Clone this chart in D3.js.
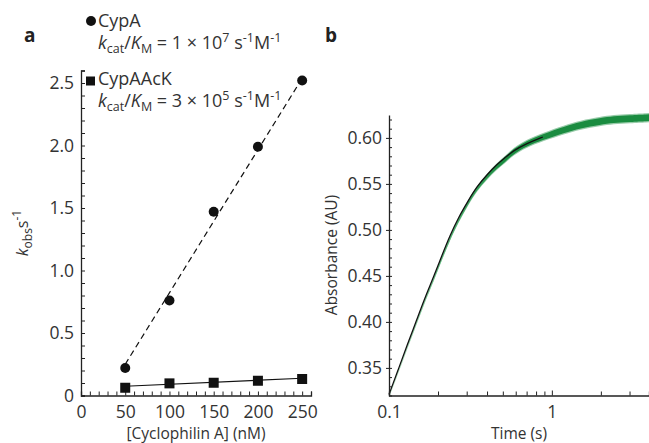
<!DOCTYPE html>
<html>
<head>
<meta charset="utf-8">
<script src="https://cdn.jsdelivr.net/npm/d3@7"></script>
<style>
  body { margin: 0; background: #fff; }
  svg { display: block; font-family: "Open Sans", sans-serif; }
</style>
</head>
<body>
<div id="chart"></div>
<script>
// panel a: rate vs cyclophilin concentration
var concentration = [50, 100, 150, 200, 250];
var cypA = [0.22, 0.76, 1.47, 1.99, 2.52];
var cypAAcK = [0.062, 0.097, 0.102, 0.118, 0.132];
var cypAFit = [[50, 0.25], [252, 2.56]];
var cypAAcKFit = [[50, 0.074], [250, 0.138]];
var concTicks = [0, 50, 100, 150, 200, 250];
var rateTicks = [0, 0.5, 1.0, 1.5, 2.0, 2.5];

// panel b: absorbance trace and fit
var fitTime = [0.1, 0.115, 0.13, 0.1465, 0.165, 0.189, 0.21, 0.237, 0.266, 0.307, 0.346, 0.4, 0.458, 0.52, 0.579, 0.7, 0.88];
var fitAbs = [0.321, 0.35, 0.376, 0.40, 0.425, 0.45, 0.471, 0.494, 0.513, 0.532, 0.547, 0.56, 0.571, 0.579, 0.586, 0.594, 0.601];
var traceTime = [0.1, 0.115, 0.13, 0.1465, 0.165, 0.189, 0.21, 0.237, 0.266, 0.307, 0.346, 0.4, 0.458, 0.52, 0.579, 0.7, 0.88, 1.2, 1.486, 2.0, 2.38, 3.0, 3.95];
var traceAbs = [0.319, 0.347, 0.373, 0.397, 0.422, 0.447, 0.468, 0.491, 0.51, 0.53, 0.545, 0.558, 0.569, 0.577, 0.585, 0.594, 0.601, 0.609, 0.614, 0.618, 0.620, 0.621, 0.622];
var traceSpread = [0.001, 0.001, 0.0012, 0.0012, 0.0014, 0.0015, 0.0016, 0.0018, 0.002, 0.002, 0.0022, 0.0024, 0.0026, 0.0028, 0.003, 0.003, 0.0032, 0.0034, 0.0035, 0.0036, 0.0036, 0.0036, 0.0036];
var timeTicks = [0.1, 1];
var timeMinor = [0.2, 0.3, 0.4, 0.5, 0.6, 0.7, 0.8, 0.9, 2, 3];
var absTicks = [0.35, 0.40, 0.45, 0.50, 0.55, 0.60];

var width = 649, height = 443;
var textColour = '#333';
var axisColour = '#222';
var tickFont = 17.5;

var svg = d3.select('#chart').append('svg')
  .attr('width', width)
  .attr('height', height);

// ---------- panel a ----------
var xA = d3.scaleLinear().domain([0, 260]).range([81, 311]);
var yA = d3.scaleLinear().domain([0, 2.6]).range([395.5, 70.5]);

var gA = svg.append('g');

gA.append('g')
  .attr('transform', 'translate(0,' + yA(0) + ')')
  .call(d3.axisBottom(xA).tickValues(d3.range(0, 261, 10)).tickSize(-4).tickFormat(''))
  .call(function (g) { g.select('.domain').attr('stroke', axisColour).attr('stroke-width', 1.3); });

gA.append('g')
  .attr('transform', 'translate(0,' + yA(0) + ')')
  .call(d3.axisBottom(xA).tickValues(concTicks).tickSize(0).tickPadding(10).tickFormat(d3.format('d')))
  .call(function (g) {
    g.select('.domain').remove();
    g.selectAll('text').attr('font-size', tickFont).attr('fill', textColour).attr('font-family', '"Open Sans", sans-serif');
  });

gA.append('g')
  .attr('transform', 'translate(' + xA(0) + ',0)')
  .call(d3.axisLeft(yA).tickValues(d3.range(0, 27).map(function (d) { return d / 10; })).tickSize(-4).tickFormat(''))
  .call(function (g) { g.select('.domain').attr('stroke', axisColour).attr('stroke-width', 1.3); });

gA.append('g')
  .attr('transform', 'translate(' + xA(0) + ',0)')
  .call(d3.axisLeft(yA).tickValues(rateTicks).tickSize(0).tickPadding(7)
    .tickFormat(function (d) { return d === 0 ? '0' : d3.format('.1f')(d); }))
  .call(function (g) {
    g.select('.domain').remove();
    g.selectAll('text').attr('font-size', tickFont).attr('fill', textColour).attr('font-family', '"Open Sans", sans-serif');
  });

gA.selectAll('.tick line').attr('stroke', axisColour).attr('stroke-width', 1);

var lineA = d3.line()
  .x(function (d) { return xA(d[0]); })
  .y(function (d) { return yA(d[1]); });

gA.append('path')
  .attr('d', lineA(cypAFit))
  .attr('fill', 'none')
  .attr('stroke', '#111')
  .attr('stroke-width', 1.2)
  .attr('stroke-dasharray', '6,4');

gA.append('path')
  .attr('d', lineA(cypAAcKFit))
  .attr('fill', 'none')
  .attr('stroke', '#111')
  .attr('stroke-width', 1.2);

gA.selectAll('.cypa')
  .data(concentration)
  .enter()
  .append('circle')
  .attr('class', 'cypa')
  .attr('cx', function (d) { return xA(d); })
  .attr('cy', function (d, i) { return yA(cypA[i]); })
  .attr('r', 5)
  .attr('fill', '#111');

gA.selectAll('.cypaack')
  .data(concentration)
  .enter()
  .append('rect')
  .attr('class', 'cypaack')
  .attr('x', function (d) { return xA(d) - 5; })
  .attr('y', function (d, i) { return yA(cypAAcK[i]) - 5; })
  .attr('width', 10)
  .attr('height', 10)
  .attr('fill', '#111');

// legend
function rateText(g, x, y, mant, exp) {
  var t = g.append('text')
    .attr('x', x).attr('y', y)
    .attr('font-size', 18)
    .attr('fill', textColour);
  t.append('tspan').attr('font-style', 'italic').text('k');
  t.append('tspan').attr('font-size', 12.5).attr('dy', 4).text('cat');
  t.append('tspan').attr('dy', -4).text('/');
  t.append('tspan').attr('font-style', 'italic').text('K');
  t.append('tspan').attr('font-size', 12.5).attr('dy', 4).text('M');
  t.append('tspan').attr('dy', -4).text(' = ' + mant + ' \u00d7 10');
  t.append('tspan').attr('font-size', 12.5).attr('dy', -7).text(exp);
  t.append('tspan').attr('dy', 7).text(' s');
  t.append('tspan').attr('font-size', 12.5).attr('dy', -7).text('-1');
  t.append('tspan').attr('dy', 7).text('M');
  t.append('tspan').attr('font-size', 12.5).attr('dy', -7).text('-1');
}

gA.append('circle').attr('cx', 91).attr('cy', 21).attr('r', 5).attr('fill', '#111');
gA.append('text').attr('x', 98).attr('y', 27).attr('font-size', 18).attr('fill', textColour).text('CypA');
rateText(gA, 98, 49, '1', '7');

gA.append('rect').attr('x', 86).attr('y', 76.5).attr('width', 9).attr('height', 9).attr('fill', '#111');
gA.append('text').attr('x', 98).attr('y', 85).attr('font-size', 18).attr('fill', textColour).text('CypAAcK');
rateText(gA, 98, 107, '3', '5');

// axis titles
gA.append('text')
  .attr('x', (xA.range()[0] + xA.range()[1]) / 2)
  .attr('y', 439)
  .attr('text-anchor', 'middle')
  .attr('font-size', 15.5)
  .attr('fill', textColour)
  .text('[Cyclophilin A] (nM)');

var yTitleA = gA.append('text')
  .attr('transform', 'translate(28,233) rotate(-90)')
  .attr('text-anchor', 'middle')
  .attr('font-size', 16)
  .attr('fill', textColour);
yTitleA.append('tspan').attr('font-style', 'italic').text('k');
yTitleA.append('tspan').attr('font-size', 12).attr('dy', 4).text('obs');
yTitleA.append('tspan').attr('dy', -4).text('s');
yTitleA.append('tspan').attr('font-size', 12).attr('dy', -7).text('-1');

svg.append('text').attr('x', 24).attr('y', 42).attr('font-size', 19).attr('font-weight', 'bold').attr('fill', '#222').text('a');
svg.append('text').attr('x', 325).attr('y', 42).attr('font-size', 19).attr('font-weight', 'bold').attr('fill', '#222').text('b');

// ---------- panel b ----------
var xB = d3.scaleLog().domain([0.1, 3.95]).range([389, 649]);
var yB = d3.scaleLinear().domain([0.32, 0.625]).range([395.5, 114.9]);

var gB = svg.append('g');

var grad = svg.append('defs').append('linearGradient')
  .attr('id', 'traceGrad')
  .attr('gradientUnits', 'userSpaceOnUse')
  .attr('x1', xB(0.1)).attr('x2', xB(0.5))
  .attr('y1', 0).attr('y2', 0);
grad.append('stop').attr('offset', '0%').attr('stop-color', '#b9e4c6');
grad.append('stop').attr('offset', '45%').attr('stop-color', '#5bb87a');
grad.append('stop').attr('offset', '100%').attr('stop-color', '#1a8c40');

var trace = traceTime.map(function (t, i) { return [t, traceAbs[i], traceSpread[i]]; });

gB.append('path')
  .attr('d', d3.area()
    .x(function (d) { return xB(d[0]); })
    .y0(function (d) { return yB(d[1] - d[2] * 1.4); })
    .y1(function (d) { return yB(d[1] + d[2] * 1.4); })
    .curve(d3.curveBasis)(trace))
  .attr('fill', 'url(#traceGrad)')
  .attr('opacity', 0.45);

gB.append('path')
  .attr('d', d3.area()
    .x(function (d) { return xB(d[0]); })
    .y0(function (d) { return yB(d[1] - d[2]); })
    .y1(function (d) { return yB(d[1] + d[2]); })
    .curve(d3.curveBasis)(trace))
  .attr('fill', 'url(#traceGrad)');

var fit = fitTime.map(function (t, i) { return [t, fitAbs[i]]; });
gB.append('path')
  .attr('d', d3.line()
    .x(function (d) { return xB(d[0]); })
    .y(function (d) { return yB(d[1]); })
    .curve(d3.curveBasis)(fit))
  .attr('fill', 'none')
  .attr('stroke', '#111')
  .attr('stroke-width', 1.3);

gB.append('g')
  .attr('transform', 'translate(0,' + yB(0.32) + ')')
  .call(d3.axisBottom(xB).tickValues(timeMinor).tickSize(-4).tickFormat(''))
  .call(function (g) { g.select('.domain').attr('stroke', axisColour).attr('stroke-width', 1.3); });

gB.append('g')
  .attr('transform', 'translate(0,' + yB(0.32) + ')')
  .call(d3.axisBottom(xB).tickValues(timeTicks).tickSize(-5).tickPadding(10)
    .tickFormat(function (d) { return d === 1 ? '1' : '0.1'; }))
  .call(function (g) {
    g.select('.domain').remove();
    g.selectAll('text').attr('font-size', tickFont).attr('fill', textColour).attr('font-family', '"Open Sans", sans-serif');
  });

gB.append('g')
  .attr('transform', 'translate(' + xB(0.1) + ',0)')
  .call(d3.axisLeft(yB).tickValues(d3.range(32, 63).map(function (d) { return d / 100; })).tickSizeInner(-3).tickSizeOuter(0).tickFormat(''))
  .call(function (g) { g.select('.domain').attr('stroke', axisColour).attr('stroke-width', 1.3); });

gB.append('g')
  .attr('transform', 'translate(' + xB(0.1) + ',0)')
  .call(d3.axisLeft(yB).tickValues(absTicks).tickSize(3).tickPadding(4).tickFormat(d3.format('.2f')))
  .call(function (g) {
    g.select('.domain').remove();
    g.selectAll('text').attr('font-size', tickFont).attr('fill', textColour).attr('font-family', '"Open Sans", sans-serif');
  });

gB.selectAll('.tick line').attr('stroke', axisColour).attr('stroke-width', 1);

gB.append('text')
  .attr('x', (xB.range()[0] + xB.range()[1]) / 2)
  .attr('y', 439)
  .attr('text-anchor', 'middle')
  .attr('font-size', 15.5)
  .attr('fill', textColour)
  .text('Time (s)');

gB.append('text')
  .attr('transform', 'translate(337,255) rotate(-90)')
  .attr('text-anchor', 'middle')
  .attr('font-size', 15.5)
  .attr('fill', textColour)
  .text('Absorbance (AU)');
</script>
</body>
</html>
